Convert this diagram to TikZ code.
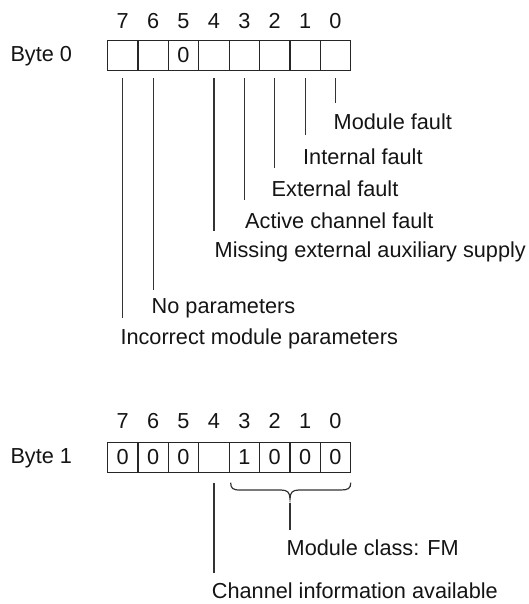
\documentclass[tikz,border=0pt]{standalone}
\usepackage{fontspec}
\setmainfont{Liberation Sans}
\begin{document}
\begin{tikzpicture}[x=1pt,y=-1pt,
  every node/.style={font=\fontsize{21.7}{26}\selectfont, text=black!92},
  cell/.style={draw=black!85, line width=1.2pt, minimum width=30.4pt, minimum height=30pt, inner sep=0pt, outer sep=0pt},
  lbl/.style={anchor=base west, inner sep=0pt},
  bitnum/.style={anchor=base, inner sep=0pt},
  conn/.style={draw=black!80, line width=1.2pt}]
\useasboundingbox (0,0) rectangle (528,604);

% ---------- Byte 0 ----------
\node[lbl] (byte0) at (10.3,61.7) {Byte 0};
\foreach \b/\v [count=\i from 0] in {7/,6/,5/0,4/,3/,2/,1/,0/} {
  \node[cell] (a\b) at ({122.7+30.4*\i},55.7) {};
  \node[bitnum] (na\b) at ({122.7+30.4*\i},28.4) {\b};
  \node[bitnum] (va\b) at ({122.7+30.4*\i},62.2) {\v};
}
\node[lbl] (t0) at (333.5,130) {Module fault};
\node[lbl] (t1) at (303,164.3) {Internal fault};
\node[lbl] (t2) at (271.5,196.7) {External fault};
\node[lbl] (t3) at (245,228.3) {Active channel fault};
\node[lbl] (t4) at (214.5,257.3) {Missing external auxiliary supply};
\node[lbl] (t6) at (151.5,313.3) {No parameters};
\node[lbl] (t7) at (120.3,344.3) {Incorrect module parameters};

\draw[conn] ([yshift=-7.3pt]a0.south) -- ([yshift=10.7pt]a0.south |- t0.north);
\draw[conn] ([yshift=-7.3pt]a1.south) -- ([yshift=13pt]a1.south |- t1.north);
\draw[conn] ([yshift=-7.3pt]a2.south) -- ([yshift=12.4pt]a2.south |- t2.north);
\draw[conn] ([yshift=-7.3pt]a3.south) -- ([yshift=12pt]a3.south |- t3.north);
\draw[conn] ([yshift=-7.3pt]a4.south) -- ([yshift=10pt]a4.south |- t4.north);
\draw[conn] ([yshift=-7.3pt]a6.south) -- ([yshift=8pt]a6.south |- t6.north);
\draw[conn] ([yshift=-7.3pt]a7.south) -- ([yshift=10pt]a7.south |- t7.north);

% ---------- Byte 1 ----------
\node[lbl] (byte1) at (10.3,463.5) {Byte 1};
\foreach \b/\v [count=\i from 0] in {7/0,6/0,5/0,4/,3/1,2/0,1/0,0/0} {
  \node[cell] (b\b) at ({122.7+30.4*\i},457.7) {};
  \node[bitnum] (nb\b) at ({122.7+30.4*\i},428.4) {\b};
  \node[bitnum] (vb\b) at ({122.7+30.4*\i},464.2) {\v};
}
\node[lbl] (mc) at (286.5,555) {Module class: FM};
\node[lbl] (ci) at (211.7,598.3) {Channel information available};

% brace under bits 3..0
\coordinate (brtip) at (290,499);
\draw[conn] (230.7,482.7) .. controls (230.7,488.5) and (233,490) .. (240,490)
  -- (281,490) .. controls (287.5,490) and (290,492.5) .. (brtip)
  .. controls (290,492.5) and (292.5,490) .. (299,490)
  -- (341,490) .. controls (348,490) and (350.7,488.5) .. (350.7,482.7);
\draw[conn] ([yshift=-4.3pt]brtip) -- ([yshift=9pt]brtip |- mc.north);
\draw[conn] ([yshift=-10pt]b4.south) -- ([yshift=9pt]b4.south |- ci.north);
\end{tikzpicture}
\end{document}
